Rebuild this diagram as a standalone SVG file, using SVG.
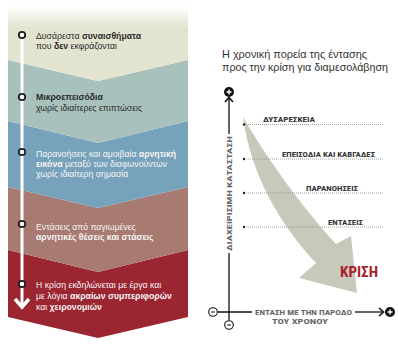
<svg xmlns="http://www.w3.org/2000/svg" width="398" height="351" viewBox="0 0 398 351">
<defs>
<linearGradient id="fade" x1="0" y1="0" x2="0" y2="1" gradientUnits="objectBoundingBox">
<stop offset="0" stop-color="#ffffff"/>
<stop offset="0.3" stop-color="#e3e4cf"/>
<stop offset="1" stop-color="#e3e4cf"/>
</linearGradient>
</defs>
<style>
.t{font-family:"Liberation Sans",Arial,sans-serif;font-size:8.7px;}
.dk{fill:#2b2b2b;}
.wh{fill:#f6f4f2;}
.b{font-weight:bold;}
.dot{fill:#ffffff;stroke:#1f1f1f;stroke-width:1.8;}
.lvl{font-family:"Liberation Sans Narrow","Roboto Condensed","Liberation Sans",sans-serif;font-size:8px;font-weight:bold;fill:#333;}
.ax{font-family:"Liberation Sans Narrow","Roboto Condensed","Liberation Sans",sans-serif;font-size:8px;font-weight:bold;fill:#666;}
.grid{stroke:#8a8a8a;stroke-width:0.8;stroke-dasharray:1 1;fill:none;}
.axis{stroke:#111;stroke-width:1.3;fill:none;}
.ttl{font-family:"Liberation Sans",Arial,sans-serif;font-size:10.6px;fill:#333;}
</style>
<rect width="398" height="351" fill="#ffffff"/>

<!-- Left chevron stack -->
<g id="band5">
<polygon points="8,250 98,272 188,250 188,317 98,338 8,317" fill="#9c2532"/>
<text class="t wh" x="36" y="288">Η κρίση εκδηλώνεται με έργα και</text>
<text class="t wh" x="36" y="299">με λόγια <tspan class="b">ακραίων συμπεριφορών</tspan></text>
<text class="t wh" x="36" y="310">και <tspan class="b">χειρονομιών</tspan></text>
</g>
<g id="band4">
<polygon points="8,187 98,208 188,187 188,250 98,272 8,250" fill="#a77b72"/>
<text class="t wh" x="36" y="229.5">Εντάσεις από παγιωμένες</text>
<text class="t wh b" x="36" y="240">αρνητικές θέσεις και στάσεις</text>
</g>
<g id="band3">
<polygon points="8,121 98,143 188,121 188,187 98,208 8,187" fill="#76a2bb"/>
<text class="t wh" x="36" y="157">Παρανοήσεις και αμοιβαία <tspan class="b">αρνητική</tspan></text>
<text class="t wh" x="36" y="167"><tspan class="b">εικόνα</tspan> μεταξύ των διαφωνούντων</text>
<text class="t wh" x="36" y="177">χωρίς ιδιαίτερη σημασία</text>
</g>
<g id="band2">
<polygon points="8,60 98,81 188,60 188,121 98,143 8,121" fill="#a9c1bd"/>
<text class="t dk b" x="36" y="100">Μικροεπεισόδια</text>
<text class="t dk" x="36" y="110.5">χωρίς ιδιαίτερες επιπτώσεις</text>
</g>
<g id="band1">
<polygon points="8,6 188,6 188,60 98,81 8,60" fill="url(#fade)"/>
<text class="t dk" x="36" y="39">Δυσάρεστα <tspan class="b">συναισθήματα</tspan></text>
<text class="t dk" x="36" y="49">που <tspan class="b">δεν</tspan> εκφράζονται</text>
</g>

<g id="timeline">
<line x1="22" y1="35" x2="22" y2="308" stroke="#ffffff" stroke-width="3"/>
<polyline points="15,299 22,307 29,299" fill="none" stroke="#ffffff" stroke-width="3.5" stroke-linejoin="miter"/>
<circle class="dot" cx="22" cy="35" r="3.2"/>
<circle class="dot" cx="22" cy="97" r="3.2"/>
<circle class="dot" cx="22" cy="152" r="3.2"/>
<circle class="dot" cx="22" cy="224" r="3.2"/>
<circle class="dot" cx="22" cy="284" r="3.2"/>
</g>

<!-- Right chart -->
<g id="title">
<text class="ttl" x="222" y="58" textLength="145" lengthAdjust="spacingAndGlyphs">Η χρονική πορεία της έντασης</text>
<text class="ttl" x="222" y="70.5" textLength="166" lengthAdjust="spacingAndGlyphs">προς την κρίση για διαμεσολάβηση</text>
</g>

<g id="trend-arrow">
<path d="M243,117 C265,155 300,205 336,244 L351,236 L357,293 L299,278 L316,263 C290,235 252,185 243,117 Z" fill="#c7c9ba"/>
</g>

<g id="levels">
<line class="grid" x1="244" y1="124.5" x2="384" y2="124.5"/>
<circle cx="244" cy="124.5" r="1.2" fill="#222"/>
<text class="lvl" x="263" y="122" textLength="52" lengthAdjust="spacingAndGlyphs">ΔΥΣΑΡΕΣΚΕΙΑ</text>
<line class="grid" x1="244" y1="159" x2="384" y2="159"/>
<circle cx="244" cy="159" r="1.2" fill="#222"/>
<text class="lvl" x="282" y="157" textLength="93" lengthAdjust="spacingAndGlyphs">ΕΠΕΙΣΟΔΙΑ ΚΑΙ ΚΑΒΓΑΔΕΣ</text>
<line class="grid" x1="244" y1="193" x2="384" y2="193"/>
<circle cx="244" cy="193" r="1.2" fill="#222"/>
<text class="lvl" x="306" y="190.5" textLength="52" lengthAdjust="spacingAndGlyphs">ΠΑΡΑΝΟΗΣΕΙΣ</text>
<line class="grid" x1="244" y1="227" x2="384" y2="227"/>
<circle cx="244" cy="227" r="1.2" fill="#222"/>
<text class="lvl" x="328" y="224.5" textLength="35" lengthAdjust="spacingAndGlyphs">ΕΝΤΑΣΕΙΣ</text>
</g>

<g id="crisis">
<text x="340" y="277" font-family="Liberation Sans Narrow,Roboto Condensed,Liberation Sans,sans-serif" font-size="14" font-weight="bold" fill="#a61f2d" textLength="38" lengthAdjust="spacingAndGlyphs">ΚΡΙΣΗ</text>
</g>

<g id="axes">
<line class="axis" x1="229" y1="98" x2="229" y2="134"/>
<polyline points="225,102 229,97.5 233,102" fill="none" stroke="#111" stroke-width="1.6"/>
<line class="axis" x1="229" y1="253" x2="229" y2="320"/>
<text class="ax" transform="translate(232,251) rotate(-90)" textLength="115" lengthAdjust="spacingAndGlyphs">ΔΙΑΧΕΙΡΙΣΙΜΗ ΚΑΤΑΣΤΑΣΗ</text>
<line class="axis" x1="217.5" y1="312" x2="252" y2="312"/>
<text class="ax" x="255" y="315" textLength="97" lengthAdjust="spacingAndGlyphs">ΕΝΤΑΣΗ ΜΕ ΤΗΝ ΠΑΡΟΔΟ</text>
<text class="ax" x="272" y="323.5" textLength="56" lengthAdjust="spacingAndGlyphs">ΤΟΥ ΧΡΟΝΟΥ</text>
<line class="axis" x1="355" y1="312" x2="383" y2="312"/>
<polyline points="379,308 383.5,312 379,316" fill="none" stroke="#111" stroke-width="1.6"/>
</g>

<g id="axis-ends">
<circle cx="229" cy="92" r="5" fill="#111"/>
<path d="M226.5,92 H231.5 M229,89.5 V94.5" stroke="#fff" stroke-width="1.4"/>
<circle cx="390" cy="312" r="5" fill="#111"/>
<path d="M387.5,312 H392.5 M390,309.5 V314.5" stroke="#fff" stroke-width="1.4"/>
<circle cx="213" cy="312" r="4.3" fill="#fff" stroke="#111" stroke-width="1.1"/>
<path d="M211.3,312 H214.7" stroke="#111" stroke-width="1.1"/>
<circle cx="229" cy="325" r="4.3" fill="#fff" stroke="#111" stroke-width="1.1"/>
<path d="M227.3,325 H230.7" stroke="#111" stroke-width="1.1"/>
</g>
</svg>
